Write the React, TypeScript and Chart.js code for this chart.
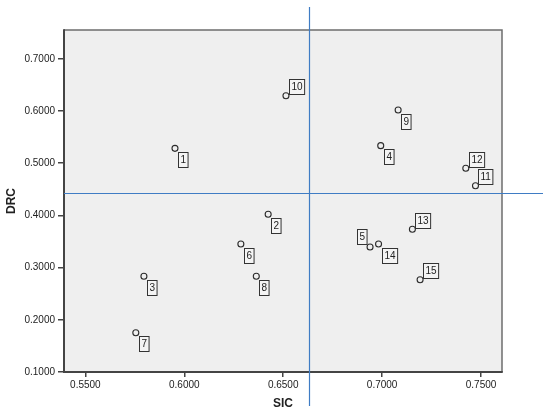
import React, { useEffect, useRef } from "react";
import { Chart, registerables } from "chart.js";

Chart.register(...registerables);

const categories = ["1", "2", "3", "4", "5", "6", "7", "8", "9", "10", "11", "12", "13", "14", "15"];
const sicValues = [0.5953, 0.6424, 0.5796, 0.6993, 0.6939, 0.6286, 0.5755, 0.6364, 0.7081, 0.6514, 0.7472, 0.7423, 0.7153, 0.6982, 0.7192];
const drcValues = [0.5285, 0.4021, 0.2833, 0.5336, 0.3395, 0.3452, 0.1753, 0.2833, 0.6019, 0.6293, 0.4569, 0.4902, 0.3734, 0.3452, 0.2768];
const xTickValues = [0.55, 0.6, 0.65, 0.7, 0.75];
const yTickValues = [0.1, 0.2, 0.3, 0.4, 0.5, 0.6, 0.7];
const sicReference = 0.6631;
const drcReference = 0.4423;
const xTitle = "SIC";
const yTitle = "DRC";

// label box placement relative to point: dr = down-right, ur = up-right, ul = up-left
const labelPlacement: Record<string, string> = {
  "5": "ul",
  "10": "ur",
  "11": "ur",
  "12": "ur",
  "13": "ur",
  "15": "ur",
};

const FONT = "'Liberation Sans', Arial, sans-serif";

const framePlugin = {
  id: "spssFrame",
  beforeDraw(chart: any) {
    const { ctx, chartArea: a } = chart;
    ctx.save();
    ctx.fillStyle = "#efefef";
    ctx.fillRect(a.left, a.top, a.right - a.left, a.bottom - a.top);
    ctx.restore();
  },
  afterDatasetsDraw(chart: any) {
    const { ctx, chartArea: a, scales } = chart;
    ctx.save();
    // frame
    ctx.strokeStyle = "#6e6e6e";
    ctx.lineWidth = 1.5;
    ctx.beginPath();
    ctx.moveTo(a.left, a.top);
    ctx.lineTo(a.right, a.top);
    ctx.lineTo(a.right, a.bottom);
    ctx.stroke();
    ctx.strokeStyle = "#444";
    ctx.lineWidth = 2;
    ctx.beginPath();
    ctx.moveTo(a.left, a.top - 0.75);
    ctx.lineTo(a.left, a.bottom);
    ctx.lineTo(a.right + 0.75, a.bottom);
    ctx.stroke();

    // reference lines
    const rx = scales.x.getPixelForValue(sicReference);
    const ry = scales.y.getPixelForValue(drcReference);
    ctx.strokeStyle = "#3f7cc4";
    ctx.lineWidth = 1.2;
    ctx.beginPath();
    ctx.moveTo(Math.round(rx) + 0.5, 7);
    ctx.lineTo(Math.round(rx) + 0.5, 406);
    ctx.moveTo(a.left, Math.round(ry) + 0.5);
    ctx.lineTo(543, Math.round(ry) + 0.5);
    ctx.stroke();

    // point labels
    ctx.font = `10px ${FONT}`;
    ctx.textAlign = "center";
    ctx.textBaseline = "middle";
    const meta = chart.getDatasetMeta(0);
    meta.data.forEach((pt: any, i: number) => {
      const label = categories[i];
      const w = ctx.measureText(label).width + 4;
      const h = 15;
      const place = labelPlacement[label] || "dr";
      let bx: number, by: number;
      if (place === "ur") {
        bx = pt.x + 3;
        by = pt.y - 1.5 - h;
      } else if (place === "ul") {
        bx = pt.x - 3 - w;
        by = pt.y - 3 - h;
      } else {
        bx = pt.x + 3;
        by = pt.y + 3.5;
      }
      bx = Math.round(bx) + 0.5;
      by = Math.round(by) + 0.5;
      ctx.fillStyle = "#f4f4f4";
      ctx.fillRect(bx, by, w, h);
      ctx.strokeStyle = "#333";
      ctx.lineWidth = 1;
      ctx.strokeRect(bx, by, w, h);
      ctx.fillStyle = "#222";
      ctx.fillText(label, bx + w / 2, by + h / 2 + 0.5);
    });
    ctx.restore();
  },
};

export default function App() {
  const canvasRef = useRef<HTMLCanvasElement | null>(null);

  useEffect(() => {
    if (!canvasRef.current) return;
    const chart = new Chart(canvasRef.current, {
      type: "scatter",
      data: {
        datasets: [
          {
            label: "cases",
            data: sicValues.map((x, i) => ({ x, y: drcValues[i] })),
            pointRadius: 3,
            pointBorderWidth: 1.1,
            pointBorderColor: "#2b2b2b",
            pointBackgroundColor: "rgba(255,255,255,0)",
            pointHoverRadius: 3,
          },
        ],
      },
      options: {
        responsive: false,
        animation: false,
        events: [],
        layout: { padding: { left: 0, top: 30, right: 48, bottom: 0 } },
        plugins: {
          legend: { display: false },
          tooltip: { enabled: false },
        },
        scales: {
          x: {
            type: "linear",
            min: 0.5392,
            max: 0.7606,
            afterBuildTicks: (scale: any) => {
              scale.ticks = xTickValues.map((v) => ({ value: v }));
            },
            afterFit: (scale: any) => {
              scale.height = 45;
            },
            ticks: {
              autoSkip: false,
              maxRotation: 0,
              padding: 2,
              color: "#222",
              font: { family: FONT, size: 10 },
              callback: (v: any) => Number(v).toFixed(4),
            },
            grid: { drawOnChartArea: false, drawTicks: true, tickLength: 5, color: "#444", lineWidth: 1.5 },
            border: { display: false },
            title: {
              display: true,
              text: xTitle,
              color: "#222",
              font: { family: FONT, size: 12, weight: "bold" },
              padding: { top: 0, bottom: 6 },
            },
          },
          y: {
            type: "linear",
            min: 0.1,
            max: 0.7552,
            afterBuildTicks: (scale: any) => {
              scale.ticks = yTickValues.map((v) => ({ value: v }));
            },
            afterFit: (scale: any) => {
              scale.width = 64;
            },
            ticks: {
              autoSkip: false,
              padding: 3,
              color: "#222",
              font: { family: FONT, size: 10 },
              callback: (v: any) => Number(v).toFixed(4),
            },
            grid: { drawOnChartArea: false, drawTicks: true, tickLength: 6, color: "#444", lineWidth: 1.5 },
            border: { display: false },
            title: {
              display: true,
              text: yTitle,
              color: "#222",
              font: { family: FONT, size: 12, weight: "bold" },
              padding: { top: 4, bottom: 0 },
            },
          },
        },
      },
      plugins: [framePlugin],
    } as any);
    return () => chart.destroy();
  }, []);

  return (
    <div style={{ position: "fixed", left: 0, top: 0, width: 550, height: 417, background: "#fff" }}>
      <canvas ref={canvasRef} width={550} height={417} style={{ display: "block" }} />
    </div>
  );
}
